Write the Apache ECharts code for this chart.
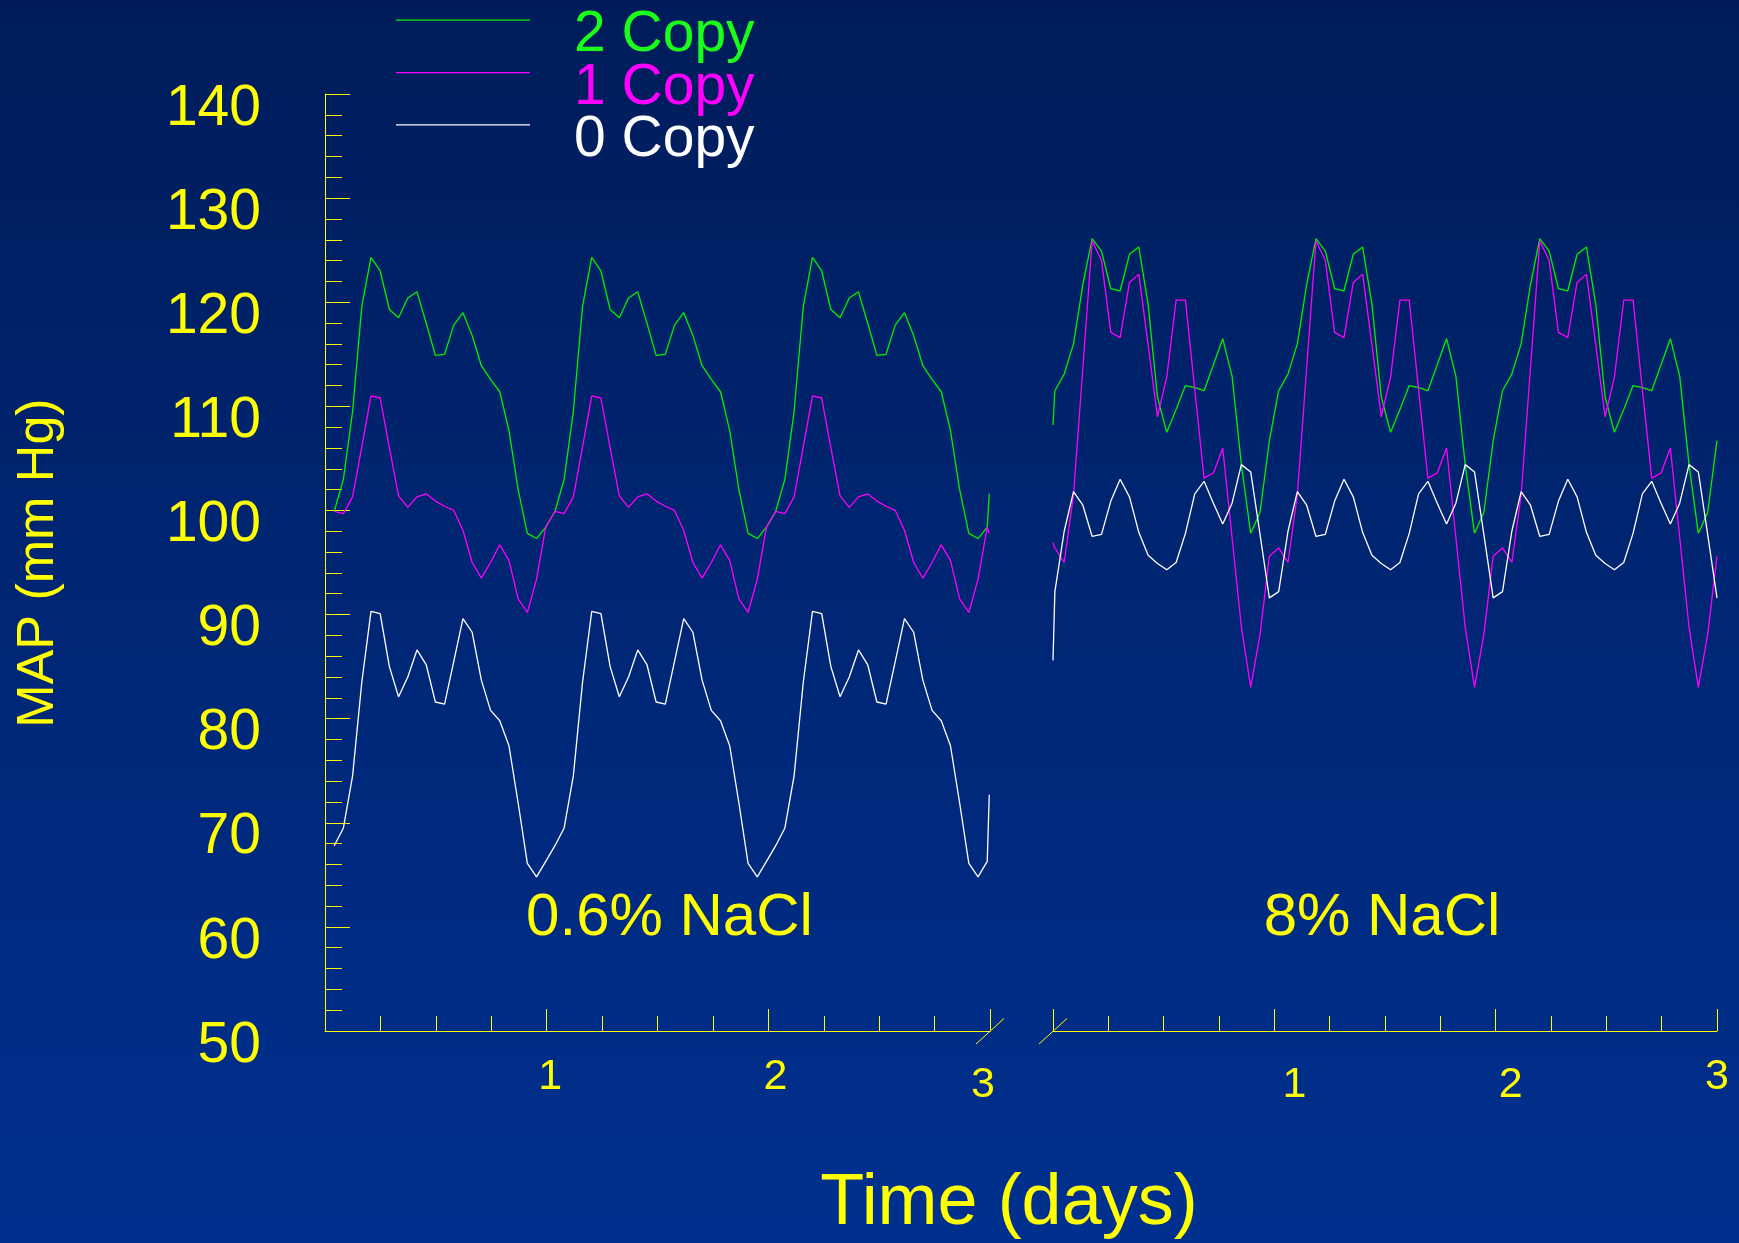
<!DOCTYPE html>
<html>
<head>
<meta charset="utf-8">
<title>MAP (mm Hg) vs Time</title>
<script src="https://cdn.jsdelivr.net/npm/echarts@6/dist/echarts.min.js"></script>
<style>
  html, body { margin: 0; padding: 0; background: #00276f; }
  #chart { width: 1739px; height: 1243px; }
</style>
</head>
<body>
<div id="chart"></div>
<script>
// ---- Data -------------------------------------------------------------
// Hourly mean arterial pressure (mm Hg) over three days for each gene-copy group.
// Left panel: 0.6% NaCl diet, hours 1..72 plus the closing sample.
const leftGreen = [
  99.9, 103.0, 109.5, 119.6, 124.3, 123.0, 119.3, 118.5, 120.4, 121.0, 118.0, 114.9,
  115.0, 117.8, 119.0, 116.8, 113.9, 112.6, 111.4, 107.7, 102.0, 97.8, 97.3, 98.4,
  99.9, 103.0, 109.5, 119.6, 124.3, 123.0, 119.3, 118.5, 120.4, 121.0, 118.0, 114.9,
  115.0, 117.8, 119.0, 116.8, 113.9, 112.6, 111.4, 107.7, 102.0, 97.8, 97.3, 98.4,
  99.9, 103.0, 109.5, 119.6, 124.3, 123.0, 119.3, 118.5, 120.4, 121.0, 118.0, 114.9,
  115.0, 117.8, 119.0, 116.8, 113.9, 112.6, 111.4, 107.7, 102.0, 97.8, 97.3, 98.4,
  101.6
];
const leftMagenta = [
  99.9, 99.7, 101.3, 106.1, 111.0, 110.8, 106.0, 101.4, 100.3, 101.3, 101.6, 100.9,
  100.4, 100.0, 98.1, 95.0, 93.5, 95.0, 96.7, 95.2, 91.5, 90.2, 93.4, 98.4,
  99.9, 99.7, 101.3, 106.1, 111.0, 110.8, 106.0, 101.4, 100.3, 101.3, 101.6, 100.9,
  100.4, 100.0, 98.1, 95.0, 93.5, 95.0, 96.7, 95.2, 91.5, 90.2, 93.4, 98.4,
  99.9, 99.7, 101.3, 106.1, 111.0, 110.8, 106.0, 101.4, 100.3, 101.3, 101.6, 100.9,
  100.4, 100.0, 98.1, 95.0, 93.5, 95.0, 96.7, 95.2, 91.5, 90.2, 93.4, 98.4,
  97.8
];
const leftWhite = [
  67.8, 69.5, 74.5, 83.5, 90.3, 90.1, 85.0, 82.1, 84.0, 86.6, 85.2, 81.6,
  81.4, 85.5, 89.6, 88.3, 83.7, 80.8, 79.8, 77.4, 71.9, 66.1, 64.8, 66.3,
  67.8, 69.5, 74.5, 83.5, 90.3, 90.1, 85.0, 82.1, 84.0, 86.6, 85.2, 81.6,
  81.4, 85.5, 89.6, 88.3, 83.7, 80.8, 79.8, 77.4, 71.9, 66.1, 64.8, 66.3,
  67.8, 69.5, 74.5, 83.5, 90.3, 90.1, 85.0, 82.1, 84.0, 86.6, 85.2, 81.6,
  81.4, 85.5, 89.6, 88.3, 83.7, 80.8, 79.8, 77.4, 71.9, 66.1, 64.8, 66.3,
  72.7
];

// Right panel: 8% NaCl diet, opening sample plus hourly readings.
const rightGreen = [
  108.2,
  111.5, 113.1, 116.0, 121.7, 126.1, 124.9, 121.3, 121.1, 124.6, 125.3, 119.8, 110.9,
  107.5, 109.7, 112.0, 111.8, 111.5, 114.0, 116.5, 112.9, 104.4, 97.8, 99.8, 106.7,
  111.5, 113.1, 116.0, 121.7, 126.1, 124.9, 121.3, 121.1, 124.6, 125.3, 119.8, 110.9,
  107.5, 109.7, 112.0, 111.8, 111.5, 114.0, 116.5, 112.9, 104.4, 97.8, 99.8, 106.7,
  111.5, 113.1, 116.0, 121.7, 126.1, 124.9, 121.3, 121.1, 124.6, 125.3, 119.8, 110.9,
  107.5, 109.7, 112.0, 111.8, 111.5, 114.0, 116.5, 112.9, 104.4, 97.8, 99.8, 106.7
];
const rightMagenta = [
  96.9,
  96.4, 95.0, 101.5, 113.7, 125.9, 124.0, 117.1, 116.6, 121.9, 122.7, 115.9, 109.0,
  112.8, 120.2, 120.2, 111.6, 103.1, 103.6, 106.0, 97.4, 88.8, 83.0, 88.1, 95.6,
  96.4, 95.0, 101.5, 113.7, 125.9, 124.0, 117.1, 116.6, 121.9, 122.7, 115.9, 109.0,
  112.8, 120.2, 120.2, 111.6, 103.1, 103.6, 106.0, 97.4, 88.8, 83.0, 88.1, 95.6,
  96.4, 95.0, 101.5, 113.7, 125.9, 124.0, 117.1, 116.6, 121.9, 122.7, 115.9, 109.0,
  112.8, 120.2, 120.2, 111.6, 103.1, 103.6, 106.0, 97.4, 88.8, 83.0, 88.1, 95.6
];
const rightWhite = [
  85.6,
  92.2, 98.0, 101.8, 100.5, 97.5, 97.7, 100.9, 103.0, 101.3, 97.9, 95.7, 94.9,
  94.3, 95.0, 97.8, 101.6, 102.8, 100.7, 98.7, 100.7, 104.4, 103.7, 97.7, 91.6,
  92.2, 98.0, 101.8, 100.5, 97.5, 97.7, 100.9, 103.0, 101.3, 97.9, 95.7, 94.9,
  94.3, 95.0, 97.8, 101.6, 102.8, 100.7, 98.7, 100.7, 104.4, 103.7, 97.7, 91.6,
  92.2, 98.0, 101.8, 100.5, 97.5, 97.7, 100.9, 103.0, 101.3, 97.9, 95.7, 94.9,
  94.3, 95.0, 97.8, 101.6, 102.8, 100.7, 98.7, 100.7, 104.4, 103.7, 97.7, 91.6
];

// Sample times in hours from the start of each recording window.
const leftHours = [];
for (let h = 1; h <= 72; h++) leftHours.push(h);
leftHours.push(72.22);
const rightHours = [0];
for (let h = 0; h < 72; h++) rightHours.push(h + 0.2);

const seriesNames = ['2 Copy', '1 Copy', '0 Copy'];
const panelTitles = ['0.6% NaCl', '8% NaCl'];
const dayLabels = ['', '1', '2', '3'];
const yTitle = 'MAP (mm Hg)';
const xTitle = 'Time (days)';

// ---- Styling ----------------------------------------------------------
const FONT = '"Liberation Sans", Arial, Helvetica, sans-serif';
const YELLOW = '#ffff00';
const COLORS = ['#00f000', '#ff00ff', '#ffffff'];
const TEXT_COLORS = ['#19ff19', '#ff00ff', '#ffffff'];
const LEFT_SPAN = 72.3;   // hours covered by the left time axis
const RIGHT_SPAN = 71.2;  // hours covered by the right time axis

// Legend key: a thin bar along the top edge of a 134x32 box, so the
// label (centred on the box) sits just below its key line.
const LEGEND_ICON = 'path://M0,0L134,0L134,1.3L0,1.3Z M0,31.99L134,31.99L134,32L0,32Z';

const pair = (xs, ys) => xs.map((x, i) => [x, ys[i]]);

// Day-number labels sit a little unevenly under the major ticks.
const labelRich = {
  l1: { fontSize: 43, fontFamily: FONT, color: YELLOW, lineHeight: 44, padding: [0, 0, 0, 7] },
  l2: { fontSize: 43, fontFamily: FONT, color: YELLOW, lineHeight: 44, padding: [0, 0, 0, 14] },
  l3: { fontSize: 43, fontFamily: FONT, color: YELLOW, lineHeight: 60, padding: [0, 14, 0, 0] },
  r1: { fontSize: 43, fontFamily: FONT, color: YELLOW, lineHeight: 60, padding: [0, 0, 0, 40] },
  r2: { fontSize: 43, fontFamily: FONT, color: YELLOW, lineHeight: 60, padding: [0, 0, 0, 30] },
  r3: { fontSize: 43, fontFamily: FONT, color: YELLOW, lineHeight: 44, padding: [0, 0, 0, 0] }
};

function timeAxis(gridIndex, span, prefix) {
  return {
    gridIndex,
    type: 'value',
    min: 0,
    max: span,
    interval: span / 3,
    axisLine: { show: true, onZero: false, lineStyle: { color: YELLOW, width: 1 } },
    axisTick: { show: true, inside: true, length: 22, lineStyle: { color: YELLOW, width: 1 } },
    minorTick: { show: true, splitNumber: 4, length: 15, lineStyle: { color: YELLOW, width: 1 } },
    splitLine: { show: false },
    minorSplitLine: { show: false },
    axisLabel: {
      show: true,
      margin: 24,
      color: YELLOW,
      fontSize: 43,
      fontFamily: FONT,
      showMinLabel: true,
      showMaxLabel: true,
      hideOverlap: false,
      formatter: (v, i) => (dayLabels[i] ? '{' + prefix + dayLabels[i] + '|' + dayLabels[i] + '}' : ''),
      rich: labelRich
    }
  };
}

const chart = echarts.init(document.getElementById('chart'), null, { renderer: 'canvas' });

const lineSeries = (name, idx, grid, xs, ys) => ({
  name,
  type: 'line',
  xAxisIndex: grid,
  yAxisIndex: grid,
  data: pair(xs, ys),
  showSymbol: false,
  symbol: 'none',
  smooth: false,
  clip: false,
  color: COLORS[idx],
  itemStyle: { color: COLORS[idx] },
  lineStyle: { color: COLORS[idx], width: 1.3 },
  emphasis: { disabled: true }
});

chart.setOption({
  animation: false,
  backgroundColor: {
    type: 'linear', x: 0, y: 0, x2: 0, y2: 1,
    colorStops: [
      { offset: 0, color: '#001c5a' },
      { offset: 1, color: '#00308f' }
    ]
  },
  grid: [
    { left: 325, top: 94, width: 665, height: 937 },
    { left: 1053, top: 94, width: 664, height: 937 }
  ],
  legend: {
    orient: 'vertical',
    left: 396,
    top: 7,
    padding: 0,
    itemGap: -4.6,
    itemWidth: 134,
    itemHeight: 32,
    icon: LEGEND_ICON,
    symbolKeepAspect: false,
    selectedMode: false,
    textStyle: { fontSize: 57, fontFamily: FONT, padding: [0, 0, 0, 39] },
    data: seriesNames.map((n, i) => ({ name: n, textStyle: { color: TEXT_COLORS[i] } }))
  },
  xAxis: [timeAxis(0, LEFT_SPAN, 'l'), timeAxis(1, RIGHT_SPAN, 'r')],
  yAxis: [
    {
      gridIndex: 0,
      type: 'value',
      min: 50,
      max: 140,
      interval: 10,
      axisLine: { show: true, onZero: false, lineStyle: { color: YELLOW, width: 1 } },
      axisTick: { show: true, inside: true, length: 25, lineStyle: { color: YELLOW, width: 1 } },
      minorTick: { show: true, splitNumber: 5, length: 17, lineStyle: { color: YELLOW, width: 1 } },
      splitLine: { show: false },
      minorSplitLine: { show: false },
      axisLabel: {
        margin: 64,
        color: YELLOW,
        fontSize: 57,
        fontFamily: FONT,
        verticalAlign: 'top',
        lineHeight: 30
      }
    },
    { gridIndex: 1, type: 'value', min: 50, max: 140, show: false }
  ],
  series: [
    lineSeries(seriesNames[0], 0, 0, leftHours, leftGreen),
    lineSeries(seriesNames[1], 1, 0, leftHours, leftMagenta),
    lineSeries(seriesNames[2], 2, 0, leftHours, leftWhite),
    lineSeries(seriesNames[0], 0, 1, rightHours, rightGreen),
    lineSeries(seriesNames[1], 1, 1, rightHours, rightMagenta),
    lineSeries(seriesNames[2], 2, 1, rightHours, rightWhite)
  ]
});

// Axis-break slashes where the two time axes meet, plus the titles.
const leftEnd = chart.convertToPixel({ gridIndex: 0 }, [LEFT_SPAN, 50]);
const rightStart = chart.convertToPixel({ gridIndex: 1 }, [0, 50]);
const slash = (p) => ({
  type: 'line',
  shape: { x1: p[0] - 14, y1: p[1] + 13, x2: p[0] + 14, y2: p[1] - 12.5 },
  style: { stroke: YELLOW, lineWidth: 1 }
});
const leftMid = chart.convertToPixel({ gridIndex: 0 }, [LEFT_SPAN / 2, 60.8]);
const rightMid = chart.convertToPixel({ gridIndex: 1 }, [RIGHT_SPAN / 2, 60.8]);

chart.setOption({
  graphic: [
    slash(leftEnd),
    slash(rightStart),
    {
      type: 'text', x: leftMid[0] + 12, y: leftMid[1],
      style: { text: panelTitles[0], font: '60px ' + FONT, fill: YELLOW, align: 'center', verticalAlign: 'middle' }
    },
    {
      type: 'text', x: rightMid[0] - 3, y: rightMid[1],
      style: { text: panelTitles[1], font: '60px ' + FONT, fill: YELLOW, align: 'center', verticalAlign: 'middle' }
    },
    {
      type: 'text', x: 1009, y: 1204,
      style: { text: xTitle, font: '72px ' + FONT, fill: YELLOW, align: 'center', verticalAlign: 'middle' }
    },
    {
      type: 'text', x: 39, y: 563, rotation: Math.PI / 2,
      style: { text: yTitle, font: '52px ' + FONT, fill: YELLOW, align: 'center', verticalAlign: 'middle' }
    }
  ]
});
</script>
</body>
</html>
